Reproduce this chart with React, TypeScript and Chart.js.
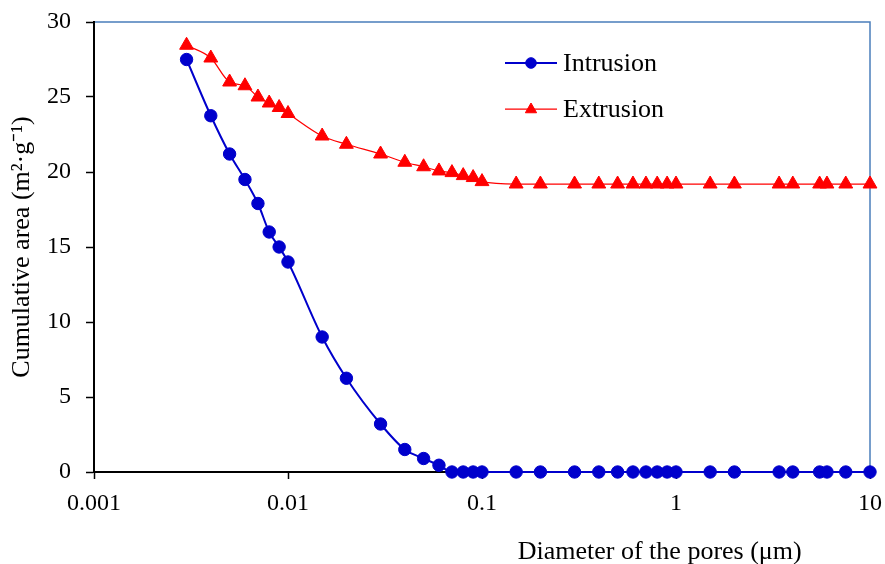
import React, { useEffect, useRef } from "react";
import { Chart, registerables } from "chart.js";

Chart.register(...registerables);

const diameters = [
  0.003, 0.004, 0.005, 0.006, 0.007, 0.008, 0.009, 0.01, 0.015, 0.02, 0.03, 0.04,
  0.05, 0.06, 0.07, 0.08, 0.09, 0.1, 0.15, 0.2, 0.3, 0.4, 0.5, 0.6, 0.7, 0.8, 0.9,
  1, 1.5, 2, 3.4, 4, 5.5, 6, 7.5, 10,
];

const intrusion = [
  27.5, 23.75, 21.2, 19.5, 17.9, 16.0, 15.0, 14.0, 9.0, 6.25, 3.2, 1.5, 0.9, 0.45,
  0, 0, 0, 0, 0, 0, 0, 0, 0, 0, 0, 0, 0, 0, 0, 0, 0, 0, 0, 0, 0, 0,
];

const extrusion = [
  28.45, 27.6, 26.0, 25.75, 25.0, 24.6, 24.3, 23.9, 22.4, 21.85, 21.2, 20.65, 20.35,
  20.07, 19.96, 19.76, 19.63, 19.36, 19.2, 19.2, 19.2, 19.2, 19.2, 19.2, 19.2, 19.2,
  19.2, 19.2, 19.2, 19.2, 19.2, 19.2, 19.2, 19.2, 19.2, 19.2,
];

const xTickValues = [0.001, 0.01, 0.1, 1, 10];
const yTitle = "Cumulative area (m²·g⁻¹)";
const xTitle = "Diameter of the pores (μm)";
const seriesLabels = ["Intrusion", "Extrusion"];

const FONT = "'Liberation Serif', 'Times New Roman', serif";

const framePlugin = {
  id: "frame",
  beforeDraw(chart: any) {
    const { ctx, chartArea } = chart;
    ctx.save();
    ctx.strokeStyle = "#4A7EBB";
    ctx.lineWidth = 1.5;
    ctx.strokeRect(
      chartArea.left,
      chartArea.top,
      chartArea.right - chartArea.left,
      chartArea.bottom - chartArea.top
    );
    ctx.restore();
  },
};

const xTitlePlugin = {
  id: "xTitleCustom",
  afterDraw(chart: any) {
    const { ctx, chartArea } = chart;
    const w = chartArea.right - chartArea.left;
    ctx.save();
    ctx.fillStyle = "#000";
    ctx.font = `26px ${FONT}`;
    ctx.textAlign = "center";
    ctx.textBaseline = "middle";
    ctx.fillText(xTitle, chartArea.left + 0.729 * w, chartArea.bottom + 80);
    ctx.restore();
  },
};

const legendPlugin = {
  id: "innerLegend",
  afterDatasetsDraw(chart: any) {
    const { ctx, chartArea } = chart;
    const x0 = chartArea.left + 411;
    const rows = [41, 87];
    ctx.save();
    chart.data.datasets.forEach((ds: any, i: number) => {
      const y = chartArea.top + rows[i];
      ctx.strokeStyle = ds.borderColor;
      ctx.lineWidth = ds.borderWidth;
      ctx.beginPath();
      ctx.moveTo(x0, y);
      ctx.lineTo(x0 + 52, y);
      ctx.stroke();
      ctx.fillStyle = ds.pointBackgroundColor;
      ctx.strokeStyle = ds.pointBorderColor;
      ctx.lineWidth = 1;
      ctx.beginPath();
      if (ds.pointStyle === "triangle") {
        const r = 6.5;
        const cx = x0 + 26;
        const cy = y + 0.5;
        ctx.moveTo(cx, cy - r);
        ctx.lineTo(cx + r * 0.866, cy + r * 0.5);
        ctx.lineTo(cx - r * 0.866, cy + r * 0.5);
        ctx.closePath();
      } else {
        ctx.arc(x0 + 26, y, 5.3, 0, Math.PI * 2);
      }
      ctx.fill();
      ctx.stroke();
      ctx.fillStyle = "#000";
      ctx.font = `26px ${FONT}`;
      ctx.textAlign = "left";
      ctx.textBaseline = "middle";
      ctx.fillText(ds.label, x0 + 58, y + 1);
    });
    ctx.restore();
  },
};

export default function App() {
  const canvasRef = useRef<HTMLCanvasElement | null>(null);

  useEffect(() => {
    document.body.style.margin = "0";
    const canvas = canvasRef.current;
    if (!canvas) return;
    const chart = new Chart(canvas, {
      type: "line",
      data: {
        datasets: [
          {
            label: seriesLabels[0],
            data: diameters.map((d, i) => ({ x: d, y: intrusion[i] })),
            borderColor: "#0000CC",
            backgroundColor: "#0000CC",
            pointBackgroundColor: "#0000CC",
            pointBorderColor: "#0000CC",
            borderWidth: 2,
            pointStyle: "circle",
            pointRadius: 6.2,
            pointBorderWidth: 1,
            cubicInterpolationMode: "monotone",
            clip: false,
          } as any,
          {
            label: seriesLabels[1],
            data: diameters.map((d, i) => ({ x: d, y: extrusion[i] })),
            borderColor: "#FF0000",
            backgroundColor: "#FF0000",
            pointBackgroundColor: "#FF0000",
            pointBorderColor: "#FF0000",
            borderWidth: 1.25,
            pointStyle: "triangle",
            pointRadius: 8,
            pointBorderWidth: 1,
            cubicInterpolationMode: "monotone",
            clip: false,
          } as any,
        ],
      },
      options: {
        animation: false,
        responsive: true,
        maintainAspectRatio: false,
        layout: { padding: { top: 22, right: 15, left: 0, bottom: 0 } },
        plugins: {
          legend: { display: false },
          tooltip: { enabled: false },
        },
        scales: {
          x: {
            type: "logarithmic",
            min: 0.001,
            max: 10,
            afterBuildTicks: (scale: any) => {
              scale.ticks = xTickValues.map((v) => ({ value: v }));
            },
            afterFit: (scale: any) => {
              scale.height = 92;
              scale.paddingLeft = 0;
              scale.paddingRight = 0;
            },
            ticks: {
              autoSkip: false,
              maxRotation: 0,
              padding: 10,
              color: "#000",
              font: { family: FONT, size: 24 },
              callback: (v: any) => String(v),
            },
            grid: {
              drawOnChartArea: false,
              tickLength: 7,
              tickColor: "#000",
              tickWidth: 1.5,
            },
            border: { color: "#000", width: 2 },
          },
          y: {
            min: 0,
            max: 30,
            afterFit: (scale: any) => {
              scale.width = 94;
              scale.paddingTop = 0;
              scale.paddingBottom = 0;
            },
            ticks: {
              stepSize: 5,
              padding: 15,
              color: "#000",
              font: { family: FONT, size: 24 },
            },
            grid: {
              drawOnChartArea: false,
              tickLength: 8,
              tickColor: "#000",
              tickWidth: 1.5,
            },
            border: { color: "#000", width: 2 },
            title: {
              display: true,
              text: yTitle,
              color: "#000",
              font: { family: FONT, size: 26 },
              padding: { top: 7, bottom: 0 },
            },
          },
        },
      },
      plugins: [framePlugin, xTitlePlugin, legendPlugin],
    });
    return () => chart.destroy();
  }, []);

  return (
    <div style={{ width: 885, height: 564, position: "relative" }}>
      <canvas ref={canvasRef} />
    </div>
  );
}
